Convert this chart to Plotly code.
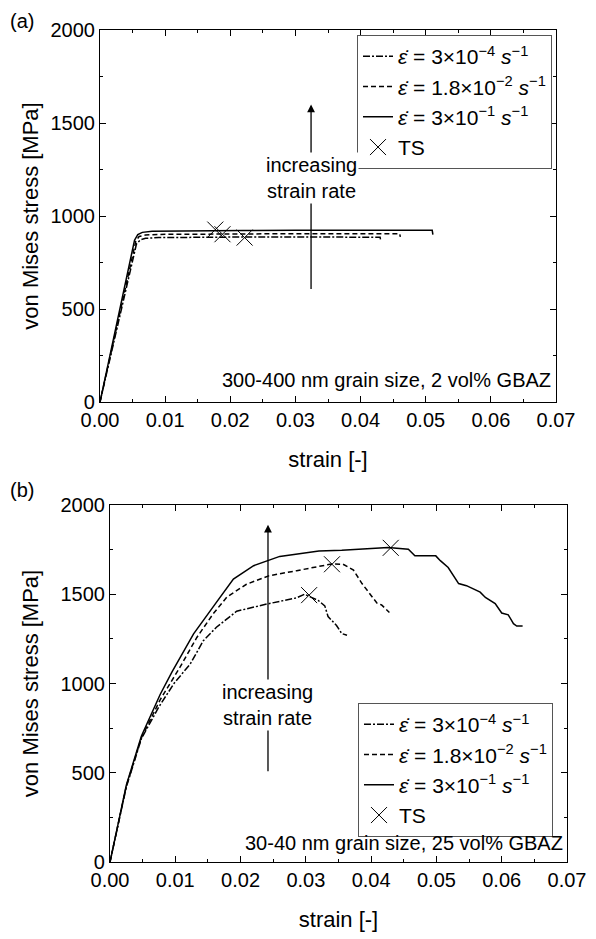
import plotly.graph_objects as go

# ---------------- data: panel (a) ----------------
a_slow_strain = [0, 0.0056, 0.0062, 0.007, 0.009, 0.015, 0.022, 0.03, 0.043, 0.0431]
a_slow_stress = [0, 850, 872, 880, 884, 886, 887, 887, 886, 866]
a_mid_strain = [0, 0.0055, 0.006, 0.007, 0.009, 0.015, 0.022, 0.03, 0.046, 0.0461]
a_mid_stress = [0, 865, 890, 898, 901, 903, 904, 905, 905, 888]
a_fast_strain = [0, 0.0053, 0.0058, 0.0065, 0.008, 0.015, 0.022, 0.03, 0.051, 0.0511]
a_fast_stress = [0, 870, 900, 912, 918, 921, 922, 923, 923, 900]
a_ts_strain = [0.0222, 0.0188, 0.0177]
a_ts_stress = [884, 902, 927]

# ---------------- data: panel (b) ----------------
b_slow_strain = [0, 0.0025, 0.0048, 0.0075, 0.0098, 0.0123, 0.0143, 0.0163, 0.0194, 0.024,
                 0.0286, 0.0298, 0.0319, 0.0329, 0.0334, 0.0347, 0.0355, 0.0363]
b_slow_stress = [0, 420, 690, 870, 1000, 1110, 1240, 1315, 1405, 1445,
                 1480, 1500, 1465, 1435, 1375, 1325, 1280, 1270]
b_mid_strain = [0, 0.0025, 0.0048, 0.0077, 0.0107, 0.0133, 0.0158, 0.0179, 0.0209, 0.0243,
                0.0286, 0.034, 0.0357, 0.0373, 0.0386, 0.0409, 0.0416, 0.0428]
b_mid_stress = [0, 425, 695, 910, 1090, 1258, 1390, 1484, 1556, 1603,
                1632, 1670, 1668, 1635, 1560, 1450, 1440, 1398]
b_fast_strain = [0, 0.0025, 0.0048, 0.0077, 0.0095, 0.0128, 0.0161, 0.0189, 0.022, 0.026,
                 0.032, 0.0355, 0.0426, 0.0457, 0.0467, 0.0499, 0.0506, 0.0518, 0.0534,
                 0.0546, 0.0567, 0.0575, 0.059, 0.06, 0.061, 0.0618, 0.0623, 0.0632]
b_fast_stress = [0, 430, 705, 940, 1065, 1278, 1445, 1585, 1660, 1712,
                 1742, 1746, 1762, 1752, 1715, 1715, 1688, 1650, 1560,
                 1548, 1512, 1482, 1448, 1395, 1385, 1335, 1322, 1322]
b_ts_strain = [0.0305, 0.034, 0.043]
b_ts_stress = [1495, 1668, 1760]

legend_names = ["<i>ε̇</i> = 3×10<sup>−4</sup> <i>s</i><sup>−1</sup>",
                "<i>ε̇</i> = 1.8×10<sup>−2</sup> <i>s</i><sup>−1</sup>",
                "<i>ε̇</i> = 3×10<sup>−1</sup> <i>s</i><sup>−1</sup>",
                "TS"]

x_ticks = [0, 0.01, 0.02, 0.03, 0.04, 0.05, 0.06, 0.07]
x_tick_labels = ["0.00", "0.01", "0.02", "0.03", "0.04", "0.05", "0.06", "0.07"]
y_ticks = [0, 500, 1000, 1500, 2000]

FONT = "Liberation Sans, Arial, sans-serif"
dash_dot = "7px,2px,2px,2px"
dash_d = "5px,3px"

fig = go.Figure()

def add_panel(xa, ya, leg, slow, mid, fast, ts):
    styles = [dash_dot, dash_d, "solid"]
    for (sx, sy), name, d in zip([slow, mid, fast], legend_names[:3], styles):
        fig.add_trace(go.Scatter(x=sx, y=sy, mode="lines", name=name,
                                 line=dict(color="black", width=1.5, dash=d),
                                 xaxis=xa, yaxis=ya, legend=leg))
    fig.add_trace(go.Scatter(x=ts[0], y=ts[1], mode="markers", name=legend_names[3],
                             marker=dict(symbol="x-thin", size=16, color="black",
                                         line=dict(width=1, color="black")),
                             xaxis=xa, yaxis=ya, legend=leg))

add_panel("x", "y", "legend",
          (a_slow_strain, a_slow_stress), (a_mid_strain, a_mid_stress),
          (a_fast_strain, a_fast_stress), (a_ts_strain, a_ts_stress))
add_panel("x2", "y2", "legend2",
          (b_slow_strain, b_slow_stress), (b_mid_strain, b_mid_stress),
          (b_fast_strain, b_fast_stress), (b_ts_strain, b_ts_stress))

def xax(domain, anchor):
    return dict(domain=domain, anchor=anchor, range=[0, 0.07], tickvals=x_ticks,
                ticktext=x_tick_labels, ticks="inside", ticklen=6, tickwidth=1,
                tickcolor="black", showline=True, linecolor="black", linewidth=1.2,
                mirror="allticks", showgrid=False, zeroline=False, automargin=False,
                minor=dict(dtick=0.005, tick0=0, ticks="inside", ticklen=3,
                           tickwidth=1, tickcolor="black", showgrid=False),
                tickfont=dict(family=FONT, size=20, color="black"),
                title=dict(text="strain [-]", font=dict(family=FONT, size=22, color="black"),
                           standoff=21))

def yax(domain, anchor, standoff):
    return dict(domain=domain, anchor=anchor, range=[0, 2000], tickvals=y_ticks,
                ticks="inside", ticklen=6, tickwidth=1, tickcolor="black",
                showline=True, linecolor="black", linewidth=1.2, mirror="allticks",
                showgrid=False, zeroline=False, automargin=False,
                minor=dict(dtick=250, tick0=0, ticks="inside", ticklen=3,
                           tickwidth=1, tickcolor="black", showgrid=False),
                tickfont=dict(family=FONT, size=20, color="black"),
                title=dict(text="von Mises stress [MPa]",
                           font=dict(family=FONT, size=22, color="black"),
                           standoff=standoff))

# the page body has an 8px margin; positions below are screen pixels minus that offset
OFF = 8
W, H = 596 - OFF, 939 - OFF

def px(x):
    return (x - OFF) / W

def py(y):
    return 1 - (y - OFF) / H

fig.update_layout(
    width=W, height=H, autosize=False,
    margin=dict(l=0, r=0, t=0, b=0),
    paper_bgcolor="white", plot_bgcolor="white",
    font=dict(family=FONT, size=20, color="black"),
    xaxis=xax([px(100), px(556)], "y"),
    yaxis=yax([py(402), py(30)], "x", 5),
    xaxis2=xax([px(110), px(567)], "y2"),
    yaxis2=yax([py(862), py(505)], "x2", 15),
    legend=dict(x=px(357), y=py(35), xanchor="left", yanchor="top",
                bgcolor="white", bordercolor="#555", borderwidth=1,
                font=dict(family=FONT, size=21, color="black"),
                tracegroupgap=0, itemwidth=30),
    legend2=dict(x=px(358), y=py(703), xanchor="left", yanchor="top",
                 bgcolor="white", bordercolor="#555", borderwidth=1,
                 font=dict(family=FONT, size=21, color="black"),
                 tracegroupgap=0, itemwidth=30),
    showlegend=True,
)

ann = []
# arrows
ann.append(dict(x=0.0324, y=1600, ax=0.0324, ay=600, xref="x", yref="y", axref="x", ayref="y",
                text="", showarrow=True, arrowhead=2, arrowsize=1.2, arrowwidth=1.3,
                arrowcolor="black"))
ann.append(dict(x=0.0324, y=1204, xref="x", yref="y", text="increasing<br>strain rate",
                showarrow=False, bgcolor="white", font=dict(family=FONT, size=20, color="black")))
ann.append(dict(x=0.0242, y=1890, ax=0.0242, ay=500, xref="x2", yref="y2", axref="x2", ayref="y2",
                text="", showarrow=True, arrowhead=2, arrowsize=1.2, arrowwidth=1.3,
                arrowcolor="black"))
ann.append(dict(x=0.0242, y=880, xref="x2", yref="y2", text="increasing<br>strain rate",
                showarrow=False, bgcolor="white", font=dict(family=FONT, size=20, color="black")))
# grain size texts
ann.append(dict(x=0.0695, y=118, xref="x", yref="y", xanchor="right", yanchor="middle",
                text="300-400 nm grain size, 2 vol% GBAZ", showarrow=False,
                font=dict(family=FONT, size=20, color="black")))
ann.append(dict(x=0.0697, y=106, xref="x2", yref="y2", xanchor="right", yanchor="middle",
                text="30-40 nm grain size, 25 vol% GBAZ", showarrow=False,
                font=dict(family=FONT, size=20, color="black")))
# panel labels
ann.append(dict(x=px(8), y=py(21), xref="paper", yref="paper", xanchor="left",
                yanchor="middle", text="(a)", showarrow=False,
                font=dict(family=FONT, size=20, color="black")))
ann.append(dict(x=px(8), y=py(490), xref="paper", yref="paper", xanchor="left",
                yanchor="middle", text="(b)", showarrow=False,
                font=dict(family=FONT, size=20, color="black")))
fig.update_layout(annotations=ann)

fig.write_html("out.html")
